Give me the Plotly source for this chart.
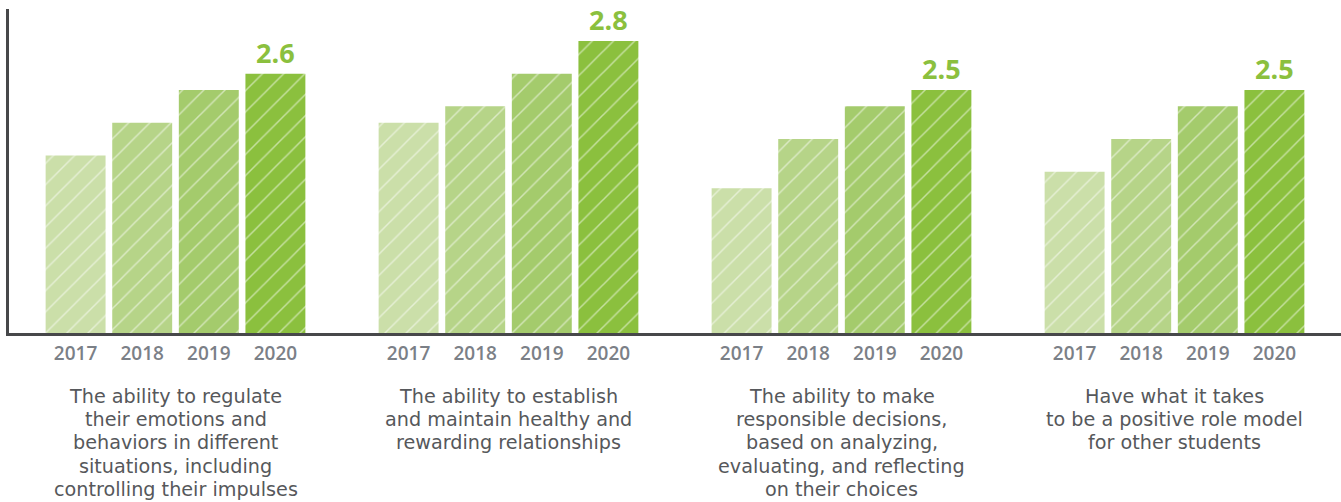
import plotly.graph_objects as go

categories = [
    "The ability to regulate<br>their emotions and<br>behaviors in different<br>situations, including<br>controlling their impulses",
    "The ability to establish<br>and maintain healthy and<br>rewarding relationships",
    "The ability to make<br>responsible decisions,<br>based on analyzing,<br>evaluating, and reflecting<br>on their choices",
    "Have what it takes<br>to be a positive role model<br>for other students",
]
years = ["2017", "2018", "2019", "2020"]
values = {
    "2017": [2.1, 2.3, 1.9, 2.0],
    "2018": [2.3, 2.4, 2.2, 2.2],
    "2019": [2.5, 2.6, 2.4, 2.4],
    "2020": [2.6, 2.8, 2.5, 2.5],
}
colors = {"2017": "#cbdfa9", "2018": "#b6d488", "2019": "#a4cb6c", "2020": "#8bc03e"}

GROUP_STEP = 5
offsets = [-1.5, -0.5, 0.5, 1.5]

# layout geometry (pixels)
H, T, B = 502, 9, 169
PLOT_H = H - T - B
FIRST_LINE_PX = 396.5   # centre of first label line, from top
LINE_STEP_PX = 23.2

fig = go.Figure()
tickvals, ticktext = [], []
for yi, yr in enumerate(years):
    xs = [g * GROUP_STEP + offsets[yi] for g in range(len(categories))]
    tickvals += xs
    ticktext += [yr] * len(xs)
    is_last = yr == years[-1]
    fig.add_trace(go.Bar(
        x=xs, y=values[yr], width=0.9, name=yr,
        marker=dict(color=colors[yr], line=dict(width=0),
                    pattern=dict(shape="/", fgcolor="white", size=15, solidity=0.1)),
        text=[f"{v:.1f}" for v in values[yr]] if is_last else None,
        textposition="outside" if is_last else "none",
        textfont=dict(family="Open Sans", size=27, color="#8bc03e", weight=700),
        cliponaxis=False,
        showlegend=False,
    ))

for g, cat in enumerate(categories):
    for li, line in enumerate(cat.split("<br>")):
        py = FIRST_LINE_PX + li * LINE_STEP_PX
        fig.add_annotation(
            x=g * GROUP_STEP, xref="x", y=(H - B - py) / PLOT_H, yref="paper",
            yanchor="middle", xanchor="center", showarrow=False, align="center",
            borderpad=0,
            text=line,
            font=dict(family="DejaVu Sans", size=19.2, color="#56585b"),
        )

fig.update_layout(
    width=1341, height=H,
    margin=dict(l=9, r=0, t=T, b=B),
    paper_bgcolor="white", plot_bgcolor="white",
    barmode="overlay",
    xaxis=dict(range=[-2.5, 17.5], tickvals=tickvals, ticktext=ticktext,
               showgrid=False, zeroline=False, showline=True, linecolor="#47484a", linewidth=3,
               ticks="", ticklabelstandoff=1,
               tickfont=dict(family="Open Sans", size=19, color="#7b8087", weight=600)),
    yaxis=dict(range=[1.015, 2.995], showgrid=False, zeroline=False, showticklabels=False,
               showline=True, linecolor="#47484a", linewidth=3, ticks=""),
)

fig.write_html("out.html")
